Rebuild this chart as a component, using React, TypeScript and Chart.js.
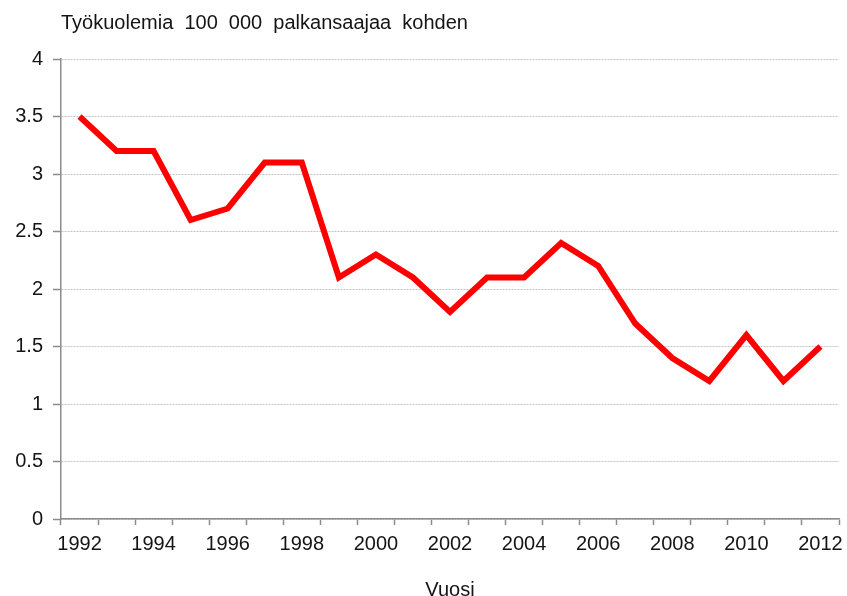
import React, { useEffect, useRef } from "react";
import { Chart, registerables } from "chart.js";

Chart.register(...registerables);

const years: string[] = [
  "1992", "1993", "1994", "1995", "1996", "1997", "1998", "1999", "2000", "2001",
  "2002", "2003", "2004", "2005", "2006", "2007", "2008", "2009", "2010", "2011", "2012",
];
const deaths: number[] = [
  3.5, 3.2, 3.2, 2.6, 2.7, 3.1, 3.1, 2.1, 2.3, 2.1,
  1.8, 2.1, 2.1, 2.4, 2.2, 1.7, 1.4, 1.2, 1.6, 1.2, 1.5,
];
const titleText = "Työkuolemia  100  000  palkansaajaa  kohden";
const xTitleText = "Vuosi";
const yMin = 0;
const yMax = 4;
const yStep = 0.5;

const FONT = "'Liberation Sans', Arial, sans-serif";
const TEXT = "#141414";
const AXIS = "#8c8c8c";
const GRID = "#c4c4c4";

export default function App() {
  const ref = useRef<HTMLCanvasElement | null>(null);

  useEffect(() => {
    if (!ref.current) return;
    const chart = new Chart(ref.current, {
      type: "line",
      data: {
        labels: years,
        datasets: [
          {
            data: deaths,
            borderColor: "#ff0000",
            backgroundColor: "#ff0000",
            borderWidth: 6,
            pointRadius: 0,
            tension: 0,
            fill: false,
          },
        ],
      },
      options: {
        animation: false,
        responsive: false,
        maintainAspectRatio: false,
        layout: { padding: { left: 0, right: 8, top: 0, bottom: 0 } },
        plugins: {
          legend: { display: false },
          tooltip: { enabled: false },
          title: {
            display: true,
            text: titleText,
            align: "start",
            fullSize: false,
            color: TEXT,
            font: { family: FONT, size: 20, weight: "normal" },
            padding: { top: 11, bottom: 24 },
          },
        },
        scales: {
          x: {
            type: "category",
            offset: true,
            grid: {
              offset: true,
              drawOnChartArea: false,
              drawTicks: true,
              tickLength: 6,
              tickColor: AXIS,
              tickWidth: 1.5,
            },
            border: { display: true, color: AXIS, width: 1.5 },
            ticks: {
              autoSkip: false,
              maxRotation: 0,
              padding: 7,
              color: TEXT,
              font: { family: FONT, size: 20 },
              callback: (_v: any, i: number) => (i % 2 === 0 ? years[i] : ""),
            },
            title: {
              display: true,
              text: xTitleText,
              color: TEXT,
              font: { family: FONT, size: 20 },
              padding: { top: 0, bottom: -6 },
            },
            afterFit: (s: any) => {
              s.height = 77;
              s.paddingRight = 0;
              s.paddingLeft = 0;
            },
          },
          y: {
            min: yMin,
            max: yMax,
            grid: {
              color: GRID,
              lineWidth: 1,
              drawTicks: true,
              tickLength: 8,
              tickColor: AXIS,
              tickWidth: 1.5,
            },
            border: { display: true, color: AXIS, width: 1.5, dash: [2, 1] },
            ticks: {
              stepSize: yStep,
              padding: 10,
              color: TEXT,
              font: { family: FONT, size: 20 },
              callback: (v: any) => String(v),
            },
            afterFit: (s: any) => {
              s.width = 61;
            },
          },
        },
      },
    });
    return () => chart.destroy();
  }, []);

  return (
    <div style={{ position: "fixed", left: 0, top: 0, width: 847, height: 596, background: "#fff" }}>
      <canvas ref={ref} width={847} height={596} style={{ width: 847, height: 596, display: "block" }} />
    </div>
  );
}
